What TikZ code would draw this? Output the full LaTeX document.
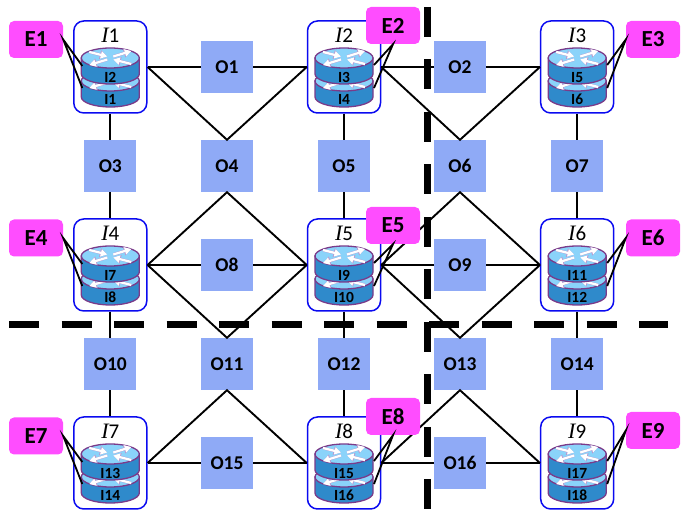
\documentclass[tikz,border=0pt]{standalone}
\usepackage{fontspec}
\setmainfont[Numbers=Lining]{Carlito}
\newfontfamily\mathlike{Liberation Serif}
\usetikzlibrary{arrows.meta}
\definecolor{osq}{HTML}{8FAAF6}
\definecolor{epink}{HTML}{FF4DFF}
\definecolor{rtop}{HTML}{8AD3FA}
\definecolor{rside}{HTML}{2F8ACB}
\definecolor{rline}{HTML}{7A3B8A}
\definecolor{fblue}{HTML}{0A0AF0}
\definecolor{arrowedge}{HTML}{B79AD0}
\tikzset{
  osquare/.style={fill=osq,minimum size=52pt,inner sep=0pt,font=\fontsize{19.5}{19.5}\selectfont\bfseries},
  epad/.style={fill=epink,rounded corners=5pt,minimum width=54pt,minimum height=37pt,inner sep=0pt,font=\fontsize{23}{23}\selectfont\bfseries},
  ibox/.style={draw=fblue,line width=1.5pt,rounded corners=10pt,minimum width=73pt,minimum height=92pt,inner sep=0pt},
  ilabel/.style={inner sep=0pt,font=\fontsize{21}{21}\selectfont},
  rlabel/.style={inner sep=0pt,font=\fontsize{15.5}{15.5}\selectfont\bfseries},
  conn/.style={line width=1.9pt,black},
  elink/.style={line width=1.8pt,black},
  divider/.style={line width=7pt,black,dash pattern=on 30pt off 22.5pt},
  rbody/.style={draw=rline,line width=1.3pt},
}
% router: centre x, y of top-ellipse centre
\newcommand{\routerdisk}[2]{%
  \fill[rside,rbody] (#1-29,#2) -- (#1-29,#2+16) arc[start angle=180,end angle=360,x radius=29pt,y radius=10pt] -- (#1+29,#2) -- cycle;
  \fill[rtop,rbody] (#1,#2) ellipse[x radius=29pt,y radius=10pt];
  \foreach \ta/\tb/\ha/\hb in {-21/-6/-3/-1.5, 3/-1.5/21/-7, -3/1.5/-21/7, 21/6/3/1.5}{
    \draw[arrowedge,line width=2.8pt,-{Triangle[length=7.5pt,width=8.5pt]}] (#1+\ta,#2+\tb) -- (#1+\ha,#2+\hb);
    \draw[white,line width=2.2pt,-{Triangle[length=6.5pt,width=7pt]}] (#1+\ta,#2+\tb) -- (#1+\ha,#2+\hb);
  }
}
% cell: name, centre x, centre y, number, upper label, lower label
\newcommand{\cell}[6]{%
  \node[ibox] (#1) at (#2,#3) {};
  \node[ilabel] (#1t) at (#2,#3-32) {{\mathlike\itshape\fontsize{22}{22}\selectfont I}#4};
  \routerdisk{#2}{#3+14}
  \routerdisk{#2}{#3-9}
  \node[rlabel] (#1u) at (#2,#3+10.5) {#5};
  \node[rlabel] (#1l) at (#2,#3+32.5) {#6};
}
\newcommand{\cellcoords}[3]{%
  \coordinate (#1L1) at (#2-28,#3-1);
  \coordinate (#1L2) at (#2-28,#3+21);
  \coordinate (#1R1) at (#2+30,#3-2);
  \coordinate (#1R2) at (#2+30,#3+21);
}
\begin{document}
\begin{tikzpicture}[x=1pt,y=-1pt]
\useasboundingbox (0,0) rectangle (689,510);
% O squares
\node[osquare] (O1) at (227,67) {O1};
\node[osquare] (O2) at (460,67) {O2};
\node[osquare] (O3) at (110.3,166) {O3};
\node[osquare] (O4) at (227,166) {O4};
\node[osquare] (O5) at (344,166) {O5};
\node[osquare] (O6) at (460,166) {O6};
\node[osquare] (O7) at (577.2,166) {O7};
\node[osquare] (O8) at (227,265) {O8};
\node[osquare] (O9) at (460,265) {O9};
\node[osquare] (O10) at (110.3,364) {O10};
\node[osquare] (O11) at (227,364) {O11};
\node[osquare] (O12) at (344,364) {O12};
\node[osquare] (O13) at (460,364) {O13};
\node[osquare] (O14) at (577.2,364) {O14};
\node[osquare] (O15) at (227,463) {O15};
\node[osquare] (O16) at (460,463) {O16};
% boxes and routers
\cell{I1}{110.3}{67}{1}{I2}{I1}
\cell{I2}{344}{67}{2}{I3}{I4}
\cell{I3}{577.2}{67}{3}{I5}{I6}
\cell{I4}{110.3}{265}{4}{I7}{I8}
\cell{I5}{344}{265}{5}{I9}{I10}
\cell{I6}{577.2}{265}{6}{I11}{I12}
\cell{I7}{110.3}{463}{7}{I13}{I14}
\cell{I8}{344}{463}{8}{I15}{I16}
\cell{I9}{577.2}{463}{9}{I17}{I18}
\cellcoords{I1}{110.3}{67}
\cellcoords{I2}{344}{67}
\cellcoords{I3}{577.2}{67}
\cellcoords{I4}{110.3}{265}
\cellcoords{I5}{344}{265}
\cellcoords{I6}{577.2}{265}
\cellcoords{I7}{110.3}{463}
\cellcoords{I8}{344}{463}
\cellcoords{I9}{577.2}{463}
% connectors
\begin{scope}[conn]
\draw (I1.east) -- (O1.west) (O1.east) -- (I2.west);
\draw (I2.east) -- (O2.west) (O2.east) -- (I3.west);
\draw (I1.east) -- (O4.north) -- (I2.west);
\draw (I2.east) -- (O6.north) -- (I3.west);
\draw (I1.south) -- (O3.north) (O3.south) -- (I4.north);
\draw (I2.south) -- (O5.north) (O5.south) -- (I5.north);
\draw (I3.south) -- (O7.north) (O7.south) -- (I6.north);
\draw (I4.east) -- (O4.south) -- (I5.west);
\draw (I5.east) -- (O6.south) -- (I6.west);
\draw (I4.east) -- (O8.west) (O8.east) -- (I5.west);
\draw (I5.east) -- (O9.west) (O9.east) -- (I6.west);
\draw (I4.east) -- (O11.north) -- (I5.west);
\draw (I5.east) -- (O13.north) -- (I6.west);
\draw (I4.south) -- (O10.north) (O10.south) -- (I7.north);
\draw (I5.south) -- (O12.north) (O12.south) -- (I8.north);
\draw (I6.south) -- (O14.north) (O14.south) -- (I9.north);
\draw (I7.east) -- (O11.south) -- (I8.west);
\draw (I8.east) -- (O13.south) -- (I9.west);
\draw (I7.east) -- (O15.west) (O15.east) -- (I8.west);
\draw (I8.east) -- (O16.west) (O16.east) -- (I9.west);
\end{scope}
% E pads
\node[epad] (E1) at (36,39.5) {E1};
\node[epad] (E2) at (393,25.5) {E2};
\node[epad] (E3) at (653,39.5) {E3};
\node[epad] (E4) at (36,238) {E4};
\node[epad] (E5) at (393,225.5) {E5};
\node[epad] (E6) at (653,238) {E6};
\node[epad] (E7) at (36,436) {E7};
\node[epad] (E8) at (393,416.5) {E8};
\node[epad] (E9) at (653,430.5) {E9};
\begin{scope}[elink]
\draw (I1L1) -- (E1.east) -- (I1L2);
\draw (I2R1) -- (E2.south) -- (I2R2);
\draw (I3R1) -- (E3.west) -- (I3R2);
\draw (I4L1) -- (E4.east) -- (I4L2);
\draw (I5R1) -- (E5.south) -- (I5R2);
\draw (I6R1) -- (E6.west) -- (I6R2);
\draw (I7L1) -- (E7.east) -- (I7L2);
\draw (I8R1) -- (E8.south) -- (I8R2);
\draw (I9R1) -- (E9.west) -- (I9R2);
\end{scope}
% dividers
\coordinate (hA) at (9,325);
\coordinate (hB) at (668,325);
\coordinate (vA) at (427,7);
\coordinate (vB) at (427,510);
\draw[divider] (hA) -- (hB);
\draw[divider] (vA) -- (vB);
\end{tikzpicture}
\end{document}
